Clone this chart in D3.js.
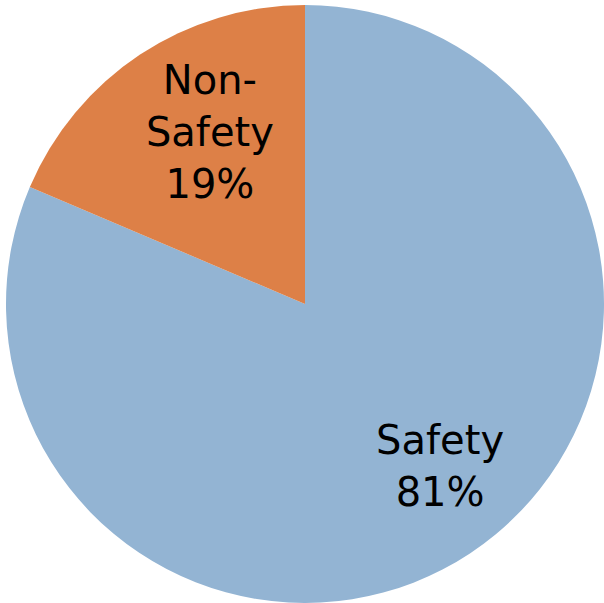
<!DOCTYPE html>
<html><head><meta charset="utf-8">
<script src="https://cdn.jsdelivr.net/npm/d3@7"></script>
<style>html,body{margin:0;padding:0;background:#fff;}svg{display:block;}</style>
</head><body>
<svg id="c" width="604" height="603"></svg>
<script>
const categories = ["Safety", "Non-Safety"];
const values = [81.4, 18.6];
const nameLines = [["Safety"], ["Non-", "Safety"]];
const colors = ["#93B4D3", "#DD8047"];

const svg = d3.select("#c");
const cx = 305, cy = 304, R = 299;
const g = svg.append("g").attr("transform", `translate(${cx},${cy})`);
const pie = d3.pie().sort(null).value(d => d)(values);
const arc = d3.arc().innerRadius(0).outerRadius(R);
g.selectAll("path").data(pie).join("path")
  .attr("d", arc).attr("fill", (d, i) => colors[i]);

const total = d3.sum(values);
const labelArc = d3.arc().innerRadius(0).outerRadius(2 * 205);
const lh = 52;
const dxs = [22, 18], dys = [-10, -2];
g.selectAll("text").data(pie).join("text")
  .attr("transform", (d, i) => { const c = labelArc.centroid(d); return `translate(${c[0] + dxs[i]},${c[1] + dys[i]})`; })
  .attr("text-anchor", "middle")
  .style("font-family", "'DejaVu Sans', sans-serif")
  .style("font-size", "40px")
  .attr("fill", "#000")
  .each(function(d, i) {
    const lines = nameLines[i].concat([Math.round(values[i] / total * 100) + "%"]);
    const t = d3.select(this);
    lines.forEach((s, k) => {
      t.append("tspan").attr("x", 0)
        .attr("y", (k - (lines.length - 1) / 2) * lh + 15)
        .text(s);
    });
  });
</script>
</body></html>
